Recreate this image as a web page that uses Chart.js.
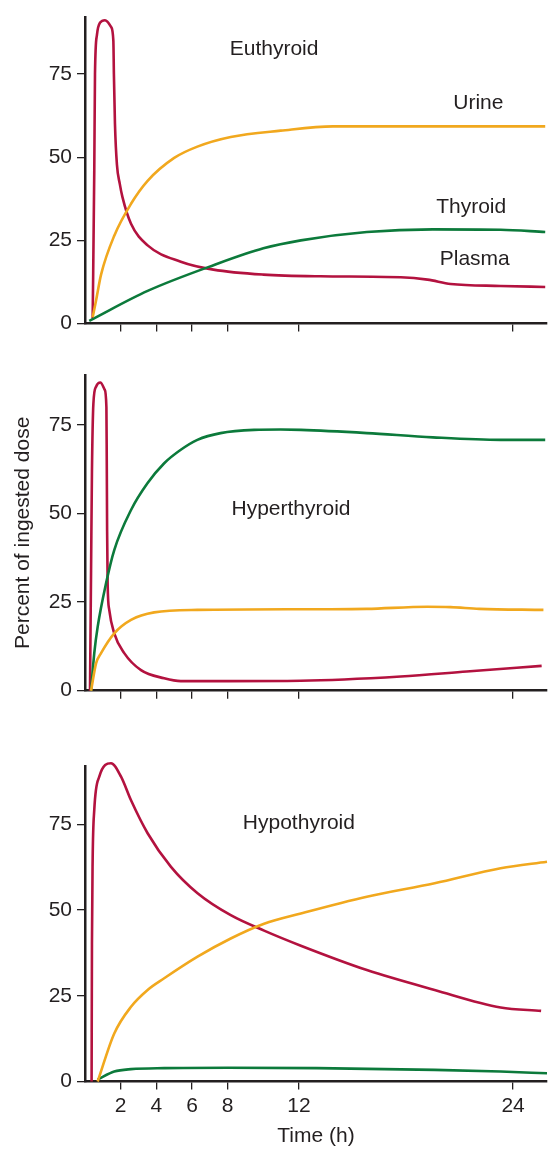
<!DOCTYPE html>
<html>
<head>
<meta charset="utf-8">
<script src="https://cdn.jsdelivr.net/npm/chart.js@4.4.1/dist/chart.umd.min.js"></script>
<style>
    html, body { margin: 0; padding: 0; background: #fff; }
    #wrap { position: relative; width: 549px; height: 1149px; }
    #wrap canvas { position: absolute; left: 0; }
</style>
</head>
<body>
<div id="wrap">
    <canvas id="euChart" width="549" height="345" style="top:0px"></canvas>
    <canvas id="hyperChart" width="549" height="360" style="top:350px"></canvas>
    <canvas id="hypoChart" width="549" height="409" style="top:740px"></canvas>
</div>
<script>
// === DATA ===
const X_TICKS = [2, 4, 6, 8, 12, 24];
const Y_TICKS = [0, 25, 50, 75];

// Euthyroid
const euPlasmaT = [0.43, 0.52, 0.56, 0.67, 0.85, 1.12, 1.46, 1.59, 1.62, 1.68, 1.79, 1.95, 2.1, 2.58, 3.51, 5.37, 7.2, 10, 13.2, 17.7, 19.2, 20.5, 23.3, 25.8];
const euPlasmaV = [1.5, 46, 75, 86.8, 90.5, 91.2, 89.2, 85, 75, 60, 47.8, 42, 38, 30, 23.5, 18.6, 16.2, 14.7, 14.2, 13.9, 13.2, 11.9, 11.3, 11.0];
const euUrineT = [0.43, 0.62, 0.9, 1.64, 2.58, 3.51, 5.0, 6.3, 8.17, 10.97, 13.9, 25.8];
const euUrineV = [1.9, 6.9, 14.7, 26.4, 36, 42.9, 49.8, 53.2, 56.1, 58, 59.3, 59.3];
const euThyroidT = [0.24, 3.51, 7.24, 10.0, 12.1, 15.8, 19.5, 23.3, 25.8];
const euThyroidV = [0.8, 9.8, 17.6, 22.6, 25.0, 27.5, 28.3, 28.2, 27.5];

// Hyperthyroid
const hyperPlasmaT = [0.28, 0.34, 0.39, 0.47, 0.62, 0.86, 1.1, 1.2, 1.22, 1.24, 1.27, 1.36, 1.64, 2.2, 3.14, 4.44, 5.37, 8, 12.1, 17.7, 21.4, 25.6];
const hyperPlasmaV = [0, 34, 62, 81, 85.8, 87, 85, 80, 65, 45, 30, 22.8, 16.2, 10.6, 5.8, 3.5, 2.7, 2.7, 2.8, 4.0, 5.4, 7.0];
const hyperUrineT = [0.34, 0.62, 0.9, 1.64, 2.58, 3.88, 6.3, 13.2, 15.8, 19.2, 20.5, 22.1, 25.7];
const hyperUrineV = [0, 7.7, 10.6, 16.2, 20, 22.1, 22.8, 23, 23.1, 23.7, 23.6, 23.1, 22.8];
const hyperThyroidT = [0.34, 0.52, 0.71, 1.18, 1.64, 2.58, 3.51, 4.44, 5.37, 6.3, 7.6, 9.48, 10.97, 12.1, 15.8, 19.5, 23.3, 25.8];
const hyperThyroidV = [0, 10.6, 18, 30.3, 39.7, 51, 58.6, 64.2, 68, 70.8, 72.7, 73.6, 73.7, 73.6, 72.7, 71.5, 70.8, 70.8];

// Hypothyroid
const hypoPlasmaT = [0.37, 0.39, 0.43, 0.52, 0.8, 1.46, 2.02, 2.58, 3.51, 4.82, 6.31, 8.17, 10.04, 12.1, 15.8, 19.6, 23.3, 25.57];
const hypoPlasmaV = [0, 40, 65, 79.2, 88.9, 92.8, 88.9, 82, 72.4, 62.6, 54.9, 48.5, 44, 39.6, 32.5, 26.7, 21.6, 20.6];
const hypoUrineT = [0.71, 1.64, 2.58, 3.51, 4.44, 6.31, 8.17, 10.04, 12.1, 15.8, 19.6, 23.3, 25.9];
const hypoUrineV = [0, 14, 21.8, 26.7, 30.1, 36.4, 41.7, 46, 49, 53.9, 57.8, 62.2, 64.1];
const hypoThyroidT = [0.71, 1.64, 2.58, 4.44, 8, 13, 19.6, 23.3, 25.9];
const hypoThyroidV = [0.6, 2.9, 3.6, 3.9, 4.0, 3.9, 3.4, 2.9, 2.4];

// === STYLE ===
const PLASMA_COLOR = '#b3123f';
const URINE_COLOR = '#f1a81e';
const THYROID_COLOR = '#0c7a3b';
const INK = '#231f20';
const FONT_FAMILY = '"Liberation Sans", Arial, Helvetica, sans-serif';

Chart.defaults.font.family = FONT_FAMILY;
Chart.defaults.font.size = 21;
Chart.defaults.color = INK;

function toPoints(ts, vs) {
    return ts.map((t, i) => ({ x: t, y: vs[i] }));
}

// Draws the panel title and curve labels at data positions
const notesPlugin = {
    id: 'notes',
    afterDatasetsDraw(chart, args, opts) {
        const { ctx, scales: { x, y } } = chart;
        ctx.save();
        ctx.font = '21px ' + FONT_FAMILY;
        ctx.fillStyle = INK;
        ctx.textAlign = 'center';
        ctx.textBaseline = 'middle';
        (opts.items || []).forEach(n => {
            ctx.fillText(n.text, x.getPixelForValue(n.t), y.getPixelForValue(n.v));
        });
        ctx.restore();
    }
};

function makePanel(canvasId, cfg) {
    const datasets = cfg.series.map(s => ({
        data: toPoints(s.t, s.v),
        borderColor: s.color,
        borderWidth: 2.6,
        pointRadius: 0,
        fill: false,
        clip: false,
        cubicInterpolationMode: 'monotone'
    }));

    return new Chart(document.getElementById(canvasId), {
        type: 'line',
        data: { datasets },
        options: {
            responsive: false,
            animation: false,
            devicePixelRatio: 1,
            layout: { padding: { top: cfg.padTop, right: 2, left: 0, bottom: 0 } },
            plugins: {
                legend: { display: false },
                tooltip: { enabled: false },
                notes: { items: cfg.notes }
            },
            scales: {
                x: {
                    type: 'linear',
                    min: 0,
                    max: 25.9,
                    afterBuildTicks: scale => { scale.ticks = X_TICKS.map(v => ({ value: v })); },
                    afterFit: scale => { scale.height = cfg.xAxisHeight; },
                    border: { display: true, color: INK, width: 2.5 },
                    grid: { drawOnChartArea: false, drawTicks: true, tickLength: 8, color: INK, lineWidth: 1.3 },
                    ticks: { display: cfg.showXLabels, padding: 4, maxRotation: 0, autoSkip: false },
                    title: {
                        display: cfg.showXLabels,
                        text: 'Time (h)',
                        padding: { top: 0, bottom: 0 }
                    }
                },
                y: {
                    type: 'linear',
                    min: 0,
                    max: cfg.yMax,
                    afterBuildTicks: scale => { scale.ticks = Y_TICKS.map(v => ({ value: v })); },
                    afterFit: scale => { scale.width = 85; },
                    border: { display: true, color: INK, width: 2.5 },
                    grid: { drawOnChartArea: false, drawTicks: true, tickLength: 8, color: INK, lineWidth: 1.3 },
                    ticks: { padding: 5 },
                    title: {
                        display: !!cfg.yTitle,
                        text: cfg.yTitle || '',
                        padding: { top: 11, bottom: 0 }
                    }
                }
            }
        },
        plugins: [notesPlugin]
    });
}

makePanel('euChart', {
    series: [
        { t: euUrineT, v: euUrineV, color: URINE_COLOR },
        { t: euThyroidT, v: euThyroidV, color: THYROID_COLOR },
        { t: euPlasmaT, v: euPlasmaV, color: PLASMA_COLOR }
    ],
    yMax: 92,
    padTop: 9,
    xAxisHeight: 21.5,
    showXLabels: false,
    notes: [
        { text: 'Euthyroid', t: 10.6, v: 82.6 },
        { text: 'Urine', t: 22.05, v: 66.2 },
        { text: 'Thyroid', t: 21.65, v: 34.9 },
        { text: 'Plasma', t: 21.85, v: 19.4 }
    ]
});

makePanel('hyperChart', {
    series: [
        { t: hyperUrineT, v: hyperUrineV, color: URINE_COLOR },
        { t: hyperThyroidT, v: hyperThyroidV, color: THYROID_COLOR },
        { t: hyperPlasmaT, v: hyperPlasmaV, color: PLASMA_COLOR }
    ],
    yMax: 89.1,
    padTop: 25,
    xAxisHeight: 19.3,
    showXLabels: false,
    yTitle: 'Percent of ingested dose',
    notes: [
        { text: 'Hyperthyroid', t: 11.55, v: 51.3 }
    ]
});

makePanel('hypoChart', {
    series: [
        { t: hypoUrineT, v: hypoUrineV, color: URINE_COLOR },
        { t: hypoThyroidT, v: hypoThyroidV, color: THYROID_COLOR },
        { t: hypoPlasmaT, v: hypoPlasmaV, color: PLASMA_COLOR }
    ],
    yMax: 91.8,
    padTop: 26.7,
    xAxisHeight: 67.5,
    showXLabels: true,
    notes: [
        { text: 'Hypothyroid', t: 11.99, v: 75.4 }
    ]
});
</script>
</body>
</html>
